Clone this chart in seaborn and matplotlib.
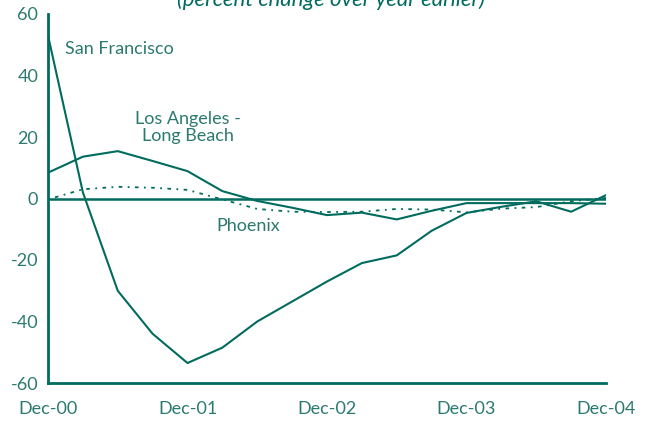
import matplotlib
matplotlib.use("Agg")
import matplotlib.pyplot as plt
import seaborn as sns
import pandas as pd

# quarterly data, percent change over year earlier
quarters = ["Dec-00", "Mar-01", "Jun-01", "Sep-01", "Dec-01", "Mar-02", "Jun-02", "Sep-02", "Dec-02",
            "Mar-03", "Jun-03", "Sep-03", "Dec-03", "Mar-04", "Jun-04", "Sep-04", "Dec-04"]
san_francisco = [53, 2, -30, -44, -53.5, -48.5, -40, -33.5, -27, -21, -18.5, -10.5, -4.7, -2.7, -0.9, -4.3, 1.1]
los_angeles = [8.4, 13.6, 15.4, 12.2, 8.9, 2.4, -0.8, -3.0, -5.4, -4.6, -6.8, -4.0, -1.5, -1.5, -1.5, -1.5, -1.7]
phoenix = [-0.3, 3.0, 3.8, 3.5, 2.8, -0.3, -3.4, -4.3, -4.4, -4.3, -3.4, -3.6, -4.5, -3.3, -2.8, -0.9, 0.2]
tick_labels = ["Dec-00", "Dec-01", "Dec-02", "Dec-03", "Dec-04"]

green = "#006b5e"
text_green = "#2b7a6f"

sns.set_style("white")
plt.rcParams['font.family'] = ['Lato', 'DejaVu Sans']
plt.rcParams['axes.unicode_minus'] = False

df = pd.DataFrame({"q": range(len(quarters)), "sf": san_francisco, "la": los_angeles, "phx": phoenix})

fig = plt.figure(figsize=(6.47, 4.22), dpi=100)
ax = fig.add_axes([48 / 647, 1 - 383 / 422, (606 - 48) / 647, (383 - 14) / 422])

sns.lineplot(data=df, x="q", y="sf", color=green, linewidth=1.5, ax=ax)
sns.lineplot(data=df, x="q", y="la", color=green, linewidth=1.5, ax=ax)
sns.lineplot(data=df, x="q", y="phx", color=green, linewidth=1.3, linestyle=(0, (1, 3, 2, 3)), ax=ax)
ax.axhline(0, color=green, linewidth=1.8)

ax.set_xlim(0, len(quarters) - 1)
ax.set_ylim(-60, 60)
ax.set_xticks([quarters.index(t) for t in tick_labels])
ax.set_xticklabels(tick_labels)
ax.set_yticks(range(-60, 61, 20))
ax.set_xlabel("")
ax.set_ylabel("")

for side in ["top", "right"]:
    ax.spines[side].set_visible(False)
for side in ["left", "bottom"]:
    ax.spines[side].set_color(green)
    ax.spines[side].set_linewidth(2)
ax.tick_params(axis="both", colors=green, labelcolor=text_green, labelsize=13, width=2, length=5, direction="out")
ax.tick_params(axis="x", pad=8)
ax.tick_params(axis="y", pad=2)

ax.text(0.48, 48.5, "San Francisco", color=text_green, fontsize=13, ha="left", va="center")
ax.text(4.0, 23, "Los Angeles -\nLong Beach", color=text_green, fontsize=13, ha="center", va="center",
        linespacing=1.1)
ax.text(5.74, -8.8, "Phoenix", color=text_green, fontsize=13, ha="center", va="center")

fig.text(0.512, 1 - 5.5 / 422, "(percent change over year earlier)", color=green, fontsize=16,
         style="italic", ha="center", va="baseline")

fig.savefig("out.png", dpi=100)
